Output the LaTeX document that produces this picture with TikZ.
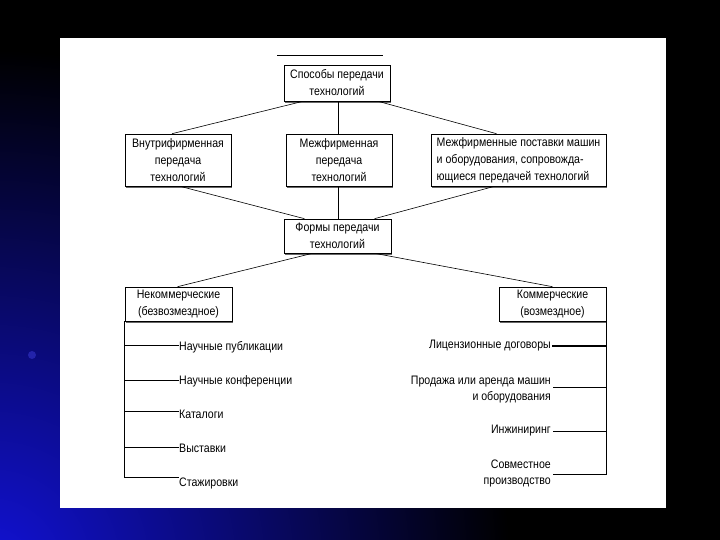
\documentclass[tikz,border=0pt]{standalone}
\usepackage{fontspec}
\setmainfont{Liberation Sans}[FakeStretch=0.86]
\usetikzlibrary{calc,shadows}
\definecolor{glow}{RGB}{18,18,215}
\definecolor{dotblue}{RGB}{35,35,170}
\begin{document}
\begin{tikzpicture}[x=1pt,y=-1pt,
  box/.style={draw=black, line width=0.6pt, fill=white, align=center, inner sep=1pt,
    font=\fontsize{12.3}{17}\selectfont,
    drop shadow={shadow xshift=1pt, shadow yshift=-1.8pt, fill=black!60, opacity=1}},
  lbl/.style={inner sep=0pt, font=\fontsize{12.3}{16}\selectfont},
  ln/.style={line width=0.6pt, draw=black}]
\useasboundingbox (0,0) rectangle (720,540);
\fill[black] (0,0) rectangle (720,540);
\begin{scope}
  \clip (0,0) rectangle (720,540);
  \shade[inner color=glow, outer color=black] (-10,570) circle (520pt);
  \fill[dotblue] (32,355) circle (4pt);
\end{scope}
\fill[white] (60,38) rectangle (666,508);

% stray line on top
\coordinate (t1) at (277,55);
\coordinate (t2) at (383,55);
\draw[ln] (t1) -- (t2);

% boxes
\node[box, minimum width=106pt, minimum height=36pt] (spos) at (337,83) {Способы передачи\\технологий};
\node[box, minimum width=106pt, minimum height=52pt] (b1) at (178,160) {Внутрифирменная\\передача\\технологий};
\node[box, minimum width=106pt, minimum height=52pt] (b2) at (339,160) {Межфирменная\\передача\\технологий};
\node[box, minimum width=175pt, minimum height=52pt, align=left] (b3) at (518.5,160) {Межфирменные поставки машин\\и оборудования, сопровожда-\\ющиеся передачей технологий};
\node[box, minimum width=107pt, minimum height=34pt] (forms) at (337.5,236) {Формы передачи\\технологий};
\node[box, minimum width=107pt, minimum height=34pt] (nek) at (178.5,304) {Некоммерческие\\(безвозмездное)};
\node[box, minimum width=107pt, minimum height=34pt] (kom) at (552.5,304) {Коммерческие\\(возмездное)};

% connectors
\draw[ln] ([xshift=-34pt]spos.south) -- ([xshift=-6pt]b1.north);
\draw[ln] ([xshift=-1pt]b2.north |- spos.south) -- ([xshift=-1pt]b2.north);
\draw[ln] ([xshift=-1pt]b2.south) -- ([xshift=-1pt]b2.south |- forms.north);
\draw[ln] ([xshift=41pt]spos.south) -- ([xshift=-22pt]b3.north);
\draw[ln] ([xshift=2pt]b1.south) -- ([xshift=-33pt]forms.north);
\draw[ln] ([xshift=-24pt]b3.south) -- ([xshift=37pt]forms.north);
\draw[ln] ([xshift=-25pt]forms.south) -- ([xshift=-1pt]nek.north);
\draw[ln] ([xshift=37pt]forms.south) -- (kom.north);

% left list
\node[lbl, anchor=west] (n1) at (179,347) {Научные публикации};
\node[lbl, anchor=west] (n2) at (179,381) {Научные конференции};
\node[lbl, anchor=west] (n3) at (179,414) {Каталоги};
\node[lbl, anchor=west] (n4) at (179,448) {Выставки};
\node[lbl, anchor=west] (n5) at (179,483) {Стажировки};
\draw[ln] (nek.south west) |- ([yshift=1.5pt]n1.west);
\draw[ln] (nek.south west) |- ([yshift=1pt]n2.west);
\draw[ln] (nek.south west) |- ([yshift=3pt]n3.west);
\draw[ln] (nek.south west) |- ([yshift=1pt]n4.west);
\draw[ln] (nek.south west) |- ([yshift=6pt]n5.west);

% right list
\node[lbl, anchor=east] (k1) at (551,346) {Лицензионные договоры};
\node[lbl, anchor=east, align=right] (k2) at (551,389.5) {Продажа или аренда машин\\и оборудования};
\node[lbl, anchor=east] (k3) at (551,431) {Инжиниринг};
\node[lbl, anchor=east, align=right] (k4) at (551,473) {Совместное\\производство};
\draw[ln, line width=1.4pt] ([xshift=1pt]k1.east) -- (kom.south east |- k1.east);
\draw[ln] (kom.south east) |- ([xshift=2pt,yshift=2.5pt]k2.east);
\draw[ln] (kom.south east) |- ([xshift=2pt]k3.east);
\draw[ln] (kom.south east) |- ([xshift=2pt,yshift=-1pt]k4.east);
\end{tikzpicture}
\end{document}
